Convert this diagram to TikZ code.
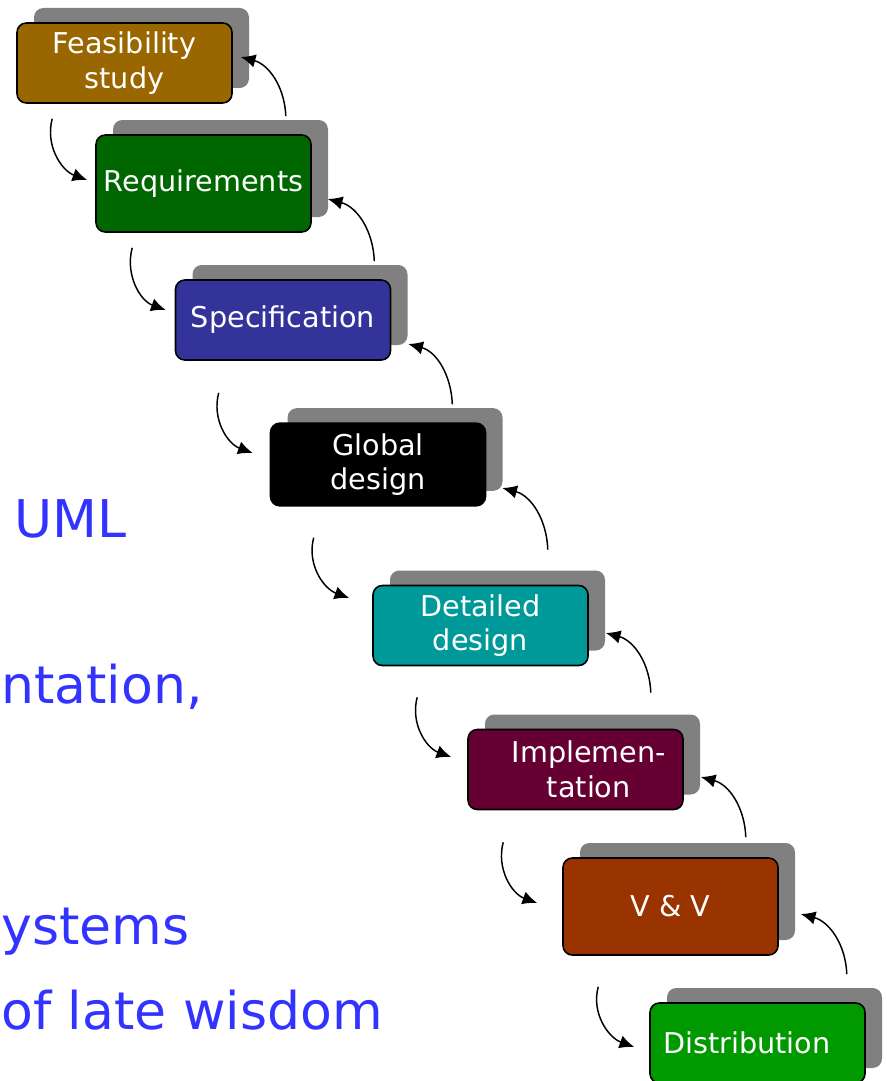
\documentclass[tikz,border=0pt]{standalone}
\usepackage{fontspec}
\setmainfont{DejaVu Sans}
\usetikzlibrary{positioning}
\usetikzlibrary{arrows.meta}
\usetikzlibrary{shadows}
\definecolor{feasbrown}{HTML}{996600}
\definecolor{reqgreen}{HTML}{006600}
\definecolor{specblue}{HTML}{333399}
\definecolor{detteal}{HTML}{009999}
\definecolor{implred}{HTML}{660033}
\definecolor{vvbrown}{HTML}{993300}
\definecolor{distgreen}{HTML}{009900}
\definecolor{shadowgray}{HTML}{808080}
\definecolor{sideblue}{HTML}{3333FF}

\begin{document}
\begin{tikzpicture}[x=0.75pt,y=0.75pt,
    stage/.style={draw=black, line width=1.2pt, rounded corners=7pt,
      minimum width=161.25pt, minimum height=60pt, text=white, align=center,
      font=\fontsize{21.5}{26}\selectfont,
      drop shadow={shadow xshift=12.75pt, shadow yshift=11.25pt, fill=shadowgray, opacity=1}},
    flow/.style={-{Latex[length=11pt,width=10pt]}, line width=1.1pt},
    side/.style={text=sideblue, font=\fontsize{39}{47}\selectfont, inner sep=0pt}]
  \useasboundingbox (0,0) rectangle (886,-1081);
  \clip (0,0) rectangle (886,-1081);

  % the stages
  \node [stage, fill=feasbrown] (feas) at (124.5,-63) {Feasibility\\study};
  \node [stage, fill=reqgreen, minimum height=72.75pt] (req) at (203.5,-183.5) {Requirements};
  \node [stage, fill=specblue] (spec) at (283,-320) {Specification};
  \node [stage, fill=black, minimum height=62pt] (glob) at (378,-464.5) {Global\\design};
  \node [stage, fill=detteal] (det) at (480.5,-625.5) {Detailed\\design};
  \node [stage, fill=implred] (impl) at (575.5,-769.5) {\hspace*{20pt}Implemen-\\\hspace*{20pt}tation};
  \node [stage, fill=vvbrown, minimum height=72.75pt] (vv) at (670.5,-906.5) {V \& V};
  \node [stage, fill=distgreen] (dist) at (757.5,-1043) {Distribution\hspace*{16pt}};

  % going down
  \draw [flow] ([shift={(36,-15)}]feas.south west) to [out=255,in=160] ([shift={(-8,3.5)}]req.west);
  \draw [flow] ([shift={(37,-15)}]req.south west) to [out=255,in=160] ([shift={(-9,10)}]spec.west);
  \draw [flow] ([shift={(44,-32)}]spec.south west) to [out=255,in=160] ([shift={(-17,11.5)}]glob.west);
  \draw [flow] ([shift={(44,-31)}]glob.south west) to [out=255,in=160] ([shift={(-23,27.5)}]det.west);
  \draw [flow] ([shift={(45,-31)}]det.south west) to [out=255,in=160] ([shift={(-16,12.5)}]impl.west);
  \draw [flow] ([shift={(36,-32)}]impl.south west) to [out=255,in=160] ([shift={(-25,3.5)}]vv.west);
  \draw [flow] ([shift={(36,-31)}]vv.south west) to [out=255,in=160] ([shift={(-15,-4)}]dist.west);

  % going back up
  \draw [flow] ([shift={(-26,18)}]req.north east) to [out=92,in=-15] ([shift={(8,6)}]feas.east);
  \draw [flow] ([shift={(-17,18)}]spec.north east) to [out=92,in=-15] ([shift={(16,-15.5)}]req.east);
  \draw [flow] ([shift={(-34,18)}]glob.north east) to [out=92,in=-15] ([shift={(17,-24)}]spec.east);
  \draw [flow] ([shift={(-41,35)}]det.north east) to [out=92,in=-15] ([shift={(16,-23.5)}]glob.east);
  \draw [flow] ([shift={(-33,36)}]impl.north east) to [out=92,in=-15] ([shift={(17,-7.5)}]det.east);
  \draw [flow] ([shift={(-33,20)}]vv.north east) to [out=92,in=-15] ([shift={(17,-7.5)}]impl.east);
  \draw [flow] ([shift={(-19,28)}]dist.north east) to [out=92,in=-15] ([shift={(22,-7.5)}]vv.east);

  % text on the left
  \node [side, anchor=base east] (uml) at (127,-537) {UML};
  \node [side, anchor=base west] (tation) at (1,-703) {ntation,};
  \node [side, anchor=base west] (systems) at (1,-944) {ystems};
  \node [side, anchor=base west] (wisdom) at (1,-1029) {of late wisdom};
\end{tikzpicture}
\end{document}
